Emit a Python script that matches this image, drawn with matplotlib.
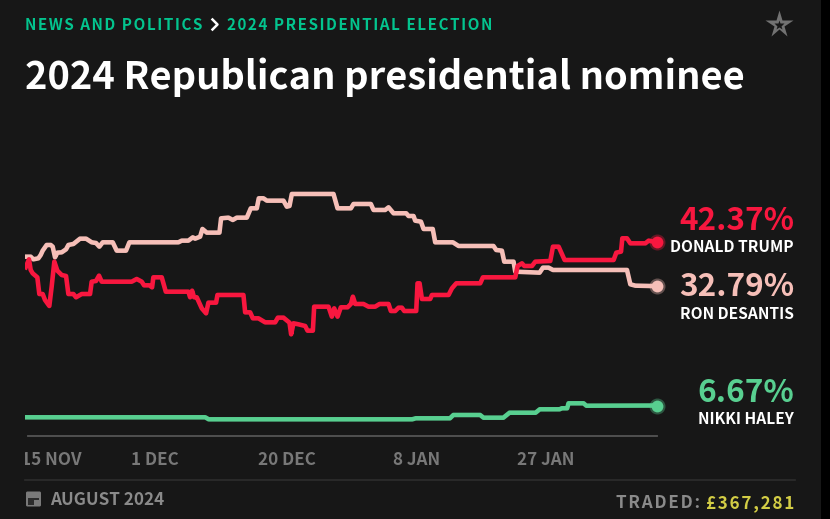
import matplotlib
matplotlib.use('Agg')
import matplotlib.pyplot as plt
from matplotlib.patches import Rectangle, FancyBboxPatch
from matplotlib.transforms import Bbox

# days since the left edge of the chart, and price in percent
trump_days = [0.1, 0.58, 0.83, 1.12, 1.80, 2.09, 2.58, 2.92, 3.55, 3.89, 4.28, 4.72, 5.35, 5.99, 6.33, 7.06, 7.45, 8.27, 9.49, 9.73,
              10.36, 10.80, 11.19, 15.57, 16.30, 17.03, 17.37, 18.15, 18.54, 18.73, 19.95, 20.54, 23.84, 24.09, 24.38, 24.67, 25.06, 25.79, 26.42, 26.76,
              27.88, 28.08, 31.87, 32.12, 32.85, 33.24, 34.06, 35.04, 36.50, 36.89, 37.71, 38.59, 38.83, 39.17, 39.90, 40.88, 41.22, 42.00, 42.19, 44.28,
              44.77, 45.11, 45.60, 46.08, 47.06, 47.55, 47.84, 48.18, 49.39, 50.12, 51.09, 51.73, 53.04, 53.38, 54.01, 54.50, 54.99, 55.33, 57.08, 57.27,
              57.57, 57.91, 59.12, 59.37, 61.80, 62.29, 62.92, 66.42, 66.81, 71.53, 71.87, 72.51, 72.85, 73.97, 74.45, 76.64, 77.03, 77.86, 78.73, 85.88,
              86.27, 86.96, 87.15, 87.83, 88.32, 90.51, 91.00, 92.21]
trump_pct = [36.91, 38.66, 36.33, 35.60, 34.72, 31.07, 31.07, 29.76, 28.45, 32.68, 38.15, 36.18, 35.23, 35.01, 31.07, 31.07, 30.35, 31.07, 31.07, 33.77,
             33.92, 35.09, 33.77, 33.77, 34.36, 33.77, 32.97, 32.97, 32.53, 34.72, 34.72, 31.58, 31.58, 30.35, 31.80, 30.35, 30.35, 27.94, 26.84, 29.18,
             29.18, 30.86, 30.86, 27.06, 27.06, 25.75, 25.75, 24.87, 24.87, 25.90, 25.90, 24.80, 22.25, 24.66, 24.44, 24.07, 23.05, 23.05, 28.30, 28.30,
             26.11, 27.94, 26.11, 28.16, 28.16, 28.89, 30.49, 28.89, 28.89, 28.30, 28.30, 28.89, 28.89, 27.35, 27.35, 28.08, 28.08, 27.35, 27.35, 33.41,
             33.41, 29.98, 29.98, 30.86, 30.86, 32.31, 33.41, 33.41, 34.72, 34.72, 37.20, 37.78, 37.20, 37.20, 38.15, 38.30, 41.43, 41.43, 38.51, 38.51,
             40.12, 40.34, 43.26, 43.26, 42.16, 42.16, 42.75, 42.37]

desantis_days = [0.1, 0.83, 1.22, 1.95, 2.29, 2.58, 3.16, 3.75, 4.04, 4.38, 4.72, 5.35, 5.99, 6.33, 7.06, 8.03, 8.91, 9.73, 10.36, 10.85,
                 11.34, 12.80, 13.38, 14.74, 15.23, 22.38, 22.87, 23.84, 24.48, 24.82, 25.55, 25.89, 26.52, 28.37, 28.61, 29.68, 30.32, 30.90, 32.36, 32.94,
                 33.82, 34.11, 34.79, 35.28, 37.71, 38.20, 38.59, 38.93, 45.01, 45.60, 47.55, 47.93, 50.46, 50.85, 52.55, 53.04, 53.77, 55.62, 55.96, 56.69,
                 56.93, 57.77, 58.15, 59.49, 59.85, 62.43, 63.26, 68.35, 68.75, 69.58, 69.92, 71.28, 71.53, 75.08, 75.57, 76.39, 77.03, 87.83, 88.32, 89.05,
                 92.21]
desantis_pct = [39.24, 39.24, 38.66, 38.88, 39.61, 40.56, 41.80, 41.80, 41.43, 39.10, 40.12, 40.19, 40.85, 41.80, 42.02, 43.18, 43.18, 42.38, 42.23, 41.43,
                42.38, 42.38, 40.56, 40.56, 42.38, 42.38, 42.75, 42.75, 43.47, 43.18, 43.62, 45.30, 44.50, 44.50, 47.63, 47.78, 47.27, 47.78, 47.78, 49.82,
                49.82, 52.01, 52.01, 51.50, 51.50, 50.18, 50.33, 52.96, 52.96, 49.82, 49.82, 50.77, 50.77, 49.46, 49.46, 50.04, 48.73, 48.73, 48.14, 48.14,
                47.12, 46.90, 45.30, 45.30, 42.38, 42.38, 41.58, 41.58, 40.70, 40.56, 38.15, 38.15, 35.96, 35.74, 36.84, 36.84, 36.33, 36.33, 33.19, 32.90,
                32.79]

haley_days = [0.0, 26.3, 26.8, 56.5, 57.0, 62.0, 62.5, 66.4, 66.9, 69.8, 70.7, 74.5, 75.1, 78.0, 78.3, 79.1, 79.3, 81.5, 81.9, 92.21]
haley_pct = [4.09, 4.09, 3.65, 3.65, 3.87, 3.87, 4.60, 4.60, 4.01, 4.01, 5.10, 5.10, 5.84, 5.84, 6.06, 6.06, 7.15, 7.15, 6.63, 6.67]

tick_days = [3.9, 19.0, 38.2, 57.2, 76.0]
tick_labels = ['15 NOV', '1 DEC', '20 DEC', '8 JAN', '27 JAN']

names = ['DONALD TRUMP', 'RON DESANTIS', 'NIKKI HALEY']
last_pct = ['42.37%', '32.79%', '6.67%']

BG = '#171717'
RED = '#f8173f'
PINK = '#f6bfb8'
GREEN = '#58cf90'
GREY = '#727272'
W, H = 830, 519

plt.rcParams['font.family'] = ['Noto Sans CJK SC', 'DejaVu Sans']


def track(s):
    # matplotlib has no letter spacing, so put a hair space between the letters
    return '\u200a'.join(s)


fig = plt.figure(figsize=(8.3, 5.19), dpi=100, facecolor='black')

# page layer in pixel units, for text and the small icons
page = fig.add_axes([0, 0, 1, 1])
page.set_xlim(0, W)
page.set_ylim(H, 0)
page.axis('off')
page.add_patch(Rectangle((0, 0), 820.5, H, color=BG, lw=0))

# chart axes: 0% sits on the axis line
ax = fig.add_axes([25 / W, 1 - 436 / H, 632 / W, 306 / H])
ax.patch.set_alpha(0)
ax.set_xlim(0, 92.21)
ax.set_ylim(0, 306 / 4.57)
for s in ['top', 'left', 'right', 'bottom']:
    ax.spines[s].set_visible(False)
ax.set_yticks([])

ax.plot(desantis_days, desantis_pct, color=PINK, lw=3.3, solid_joinstyle='round', zorder=3)
ax.plot(trump_days, trump_pct, color=RED, lw=3.3, solid_joinstyle='round', zorder=4)
ax.plot(haley_days, haley_pct, color=GREEN, lw=3.3, solid_joinstyle='round', zorder=3)

for days, pct, col in [(trump_days, trump_pct, RED), (desantis_days, desantis_pct, PINK), (haley_days, haley_pct, GREEN)]:
    ax.plot(days[-1], pct[-1], 'o', ms=11.5, color=col, alpha=0.35, mew=0, clip_on=False, zorder=5)
    ax.plot(days[-1], pct[-1], 'o', ms=8.5, color=col, mew=0, clip_on=False, zorder=6)

ax.set_xticks(tick_days)
ax.set_xticklabels(tick_labels, fontsize=12.3, fontweight='bold', color='#787878')
ax.tick_params(axis='x', length=0, pad=11)
clip = Bbox([[25, 0], [830, 519]])
for lab in ax.get_xticklabels():
    lab.set_clip_box(clip)
    lab.set_clip_on(True)

# axis line and footer rule
page.plot([28, 657], [436, 436], color='#555555', lw=1.3)
page.plot([25, 795], [480, 480], color='#2d2d2d', lw=1.2)

# header
page.text(25, 25.5, track('NEWS AND POLITICS'), color='#03c48e', fontsize=11, fontweight='bold', va='center')
page.plot([212.5, 217.5, 212.5], [19.5, 24.5, 29.5], color='white', lw=1.8)
page.text(227, 25.5, track('2024 PRESIDENTIAL ELECTION'), color='#03c48e', fontsize=11, fontweight='bold', va='center')
page.text(25, 77.5, '2024 Republican presidential nominee', color='white', fontsize=27.4, fontweight='bold', va='center')
page.plot(778.5, 24, marker='*', ms=20.5, mfc=GREY, mec='none')
page.plot(778.5, 24.5, marker='*', ms=7.5, mfc=BG, mec='none')

# end labels
label_y = [(221, 247.5, RED), (287.5, 314, PINK), (392.5, 419.5, GREEN)]
for (y1, y2, col), name, val in zip(label_y, names, last_pct):
    page.text(794, y1, val, color=col, fontsize=22.7, fontweight='bold', ha='right', va='center')
    page.text(794, y2, name, color='white', fontsize=11.2, fontweight='bold', ha='right', va='center')

# footer
page.add_patch(FancyBboxPatch((26, 491.5), 15, 15, boxstyle='round,pad=0,rounding_size=1.5', fc='#7a7a7a', ec='none'))
page.add_patch(Rectangle((28, 497.5), 11, 7, color='#2c2c2c', lw=0))
page.add_patch(Rectangle((33.5, 500), 5, 4.5, color='#7a7a7a', lw=0))
page.text(50, 500, 'AUGUST 2024', color='#8a8a8a', fontsize=12.3, fontweight='bold', va='center')
page.text(700, 503, track('TRADED:'), color='#8a8a8a', fontsize=12.3, fontweight='bold', va='center', ha='right')
page.text(794, 503, track('\u00a3367,281'), color='#d3cd45', fontsize=12.3, fontweight='bold', va='center', ha='right')

fig.savefig('out.png', dpi=100, facecolor=fig.get_facecolor())
